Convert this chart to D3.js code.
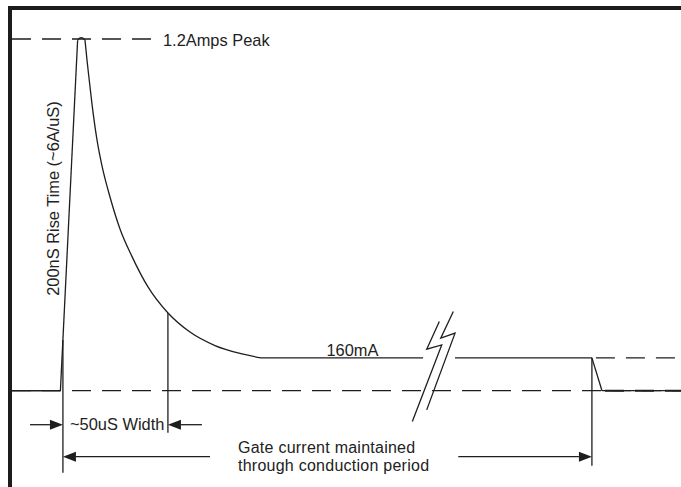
<!DOCTYPE html>
<html>
<head>
<meta charset="utf-8">
<script src="https://cdn.jsdelivr.net/npm/d3@7/dist/d3.min.js"></script>
<style>
  html, body { margin: 0; padding: 0; background: #fff; }
  svg { display: block; }
  text { font-family: "Liberation Sans", Arial, sans-serif; fill: #222; }
</style>
</head>
<body>
<svg id="chart" width="681" height="487"></svg>
<script>
// ---------- data (time in µs from start of rise, current in A) ----------
const peakCurrent = 1.2;
const plateauCurrent = 0.112;          // drawn level of the 160mA holding current
const timeStart = -24, timeEnd = 296;

const riseT  = [0, 8.2];
const riseI  = [0, 1.196];
const capT   = [8.2, 9.0, 9.95, 10.9, 11.7];
const capI   = [1.196, 1.203, 1.206, 1.203, 1.196];
const decayT = [11.71, 12.67, 13.62, 15.05, 17.29, 19.81, 23.62, 28.38, 33.95, 41.71, 51.24, 61.71, 73.62, 85.52, 95.52];
const decayI = [1.196, 1.128, 1.067, 0.978, 0.862, 0.767, 0.661, 0.552, 0.460, 0.354, 0.265, 0.200, 0.154, 0.127, 0.112];
const plateauA = [95.52, 172.7];       // before the break
const plateauB = [187.9, 253.1];       // after the break
const fallT  = [253.1, 257.9];

const markStart = 1.2;                 // start of pulse width marker
const markWidth = 51.2;                // ~50 µs later
const markEnd   = 253.1;               // end of conduction period
const markStartTopI = 0.173;

const labels = {
  peak: "1.2Amps Peak",
  rise: "200nS Rise Time  (~6A/uS)",
  plateau: "160mA",
  width: "~50uS Width",
  gate: ["Gate current maintained", "through conduction period"]
};

// ---------- scales ----------
const svg = d3.select("#chart");
const x = d3.scaleLinear().domain([timeStart, timeEnd]).range([10, 682]);
const y = d3.scaleLinear().domain([0, peakCurrent]).range([390.7, 39]);

const ink = "#1e1e1e";
const sw = 1.3;
const fs = 16.4;
const line = d3.line().x(d => x(d[0])).y(d => y(d[1]));
const zip = (a, b) => a.map((v, i) => [v, b[i]]);

function path(pts, opts = {}) {
  return svg.append("path")
    .attr("d", (opts.curve ? d3.line().x(d => x(d[0])).y(d => y(d[1])).curve(opts.curve) : line)(pts))
    .attr("fill", "none")
    .attr("stroke", ink)
    .attr("stroke-width", opts.w || sw)
    .attr("stroke-dasharray", opts.dash || null)
    .attr("stroke-linejoin", "round");
}

// ---------- frame ----------
svg.append("rect").attr("x", 8).attr("y", 6).attr("width", 673).attr("height", 4).attr("fill", "#1c1c1c");
svg.append("rect").attr("x", 8).attr("y", 6).attr("width", 4).attr("height", 481).attr("fill", "#1c1c1c");

// ---------- reference dashed lines ----------
const dash = "19,11";
svg.append("line").attr("x1", 12).attr("x2", 153).attr("y1", y(peakCurrent)).attr("y2", y(peakCurrent))
  .attr("stroke", ink).attr("stroke-width", sw).attr("stroke-dasharray", dash);
svg.append("line").attr("x1", 12).attr("x2", 681).attr("y1", y(0)).attr("y2", y(0))
  .attr("stroke", ink).attr("stroke-width", sw).attr("stroke-dasharray", dash);
svg.append("line").attr("x1", x(markEnd) + 4).attr("x2", 681).attr("y1", y(plateauCurrent)).attr("y2", y(plateauCurrent))
  .attr("stroke", ink).attr("stroke-width", sw).attr("stroke-dasharray", dash);

// ---------- waveform ----------
path([[timeStart, 0], [riseT[0], 0]], { w: 1.6 });
path(zip(riseT, riseI));
path(zip(capT, capI), { curve: d3.curveBasis });
path(zip(decayT, decayI), { curve: d3.curveMonotoneX });
path(plateauA.map(t => [t, plateauCurrent]));
path(plateauB.map(t => [t, plateauCurrent]));
path([[fallT[0], plateauCurrent], [fallT[1], 0]]);
path([[fallT[1], 0], [timeEnd, 0]]);
svg.append("line").attr("x1", x(fallT[1]) + 3).attr("x2", 681).attr("y1", y(0)).attr("y2", y(0))
  .attr("stroke", ink).attr("stroke-width", 2).attr("stroke-dasharray", "19,11");

// ---------- break symbol ----------
const bx = (x(plateauA[1]) + x(plateauB[0])) / 2, by = y(plateauCurrent);
const zigA = [[-26.7, 63.7], [2.7, -13], [-12.3, -8.7], [0.3, -36.3]];
const zigB = [[-12.3, 52], [16, -24.7], [1.7, -19.7], [14.3, -46.3]];
[zigA, zigB].forEach(z => {
  svg.append("path")
    .attr("d", d3.line()(z.map(p => [bx + p[0], by + p[1]])))
    .attr("fill", "none").attr("stroke", ink).attr("stroke-width", sw).attr("stroke-linejoin", "miter");
});

// ---------- markers ----------
const row1 = y(0) + 34, row2 = y(0) + 66;
function vline(t, y1, y2) {
  svg.append("line").attr("x1", x(t)).attr("x2", x(t)).attr("y1", y1).attr("y2", y2)
    .attr("stroke", ink).attr("stroke-width", sw);
}
vline(markStart, y(markStartTopI), row2 + 16);
vline(markWidth, y(decayI[10]), row1 + 8);
vline(markEnd, y(plateauCurrent), row2 + 9);

function arrow(xTail, xTip, yy) {
  const dir = xTip > xTail ? 1 : -1;
  const L = 13, H = 5;
  svg.append("line").attr("x1", xTail).attr("x2", xTip - dir * L).attr("y1", yy).attr("y2", yy)
    .attr("stroke", ink).attr("stroke-width", sw);
  svg.append("path")
    .attr("d", `M${xTip},${yy} L${xTip - dir * L},${yy - H} L${xTip - dir * L},${yy + H} Z`)
    .attr("fill", ink);
}
arrow(30, x(markStart), row1);
arrow(x(markWidth) + 34, x(markWidth), row1);

// ---------- text ----------
svg.append("text").attr("x", 163).attr("y", y(peakCurrent) + 6.5).attr("font-size", fs).text(labels.peak);
svg.append("text").attr("transform", `translate(58.5,198.5) rotate(-90)`)
  .attr("text-anchor", "middle").attr("font-size", fs).text(labels.rise);
svg.append("text").attr("x", 326.5).attr("y", y(plateauCurrent) - 2).attr("font-size", fs).text(labels.plateau);
svg.append("text").attr("x", 70).attr("y", row1 + 5.5).attr("font-size", fs).text(labels.width);

const gx = 238;
const gate = svg.selectAll("text.gate").data(labels.gate).join("text")
  .attr("class", "gate")
  .attr("x", gx)
  .attr("y", (d, i) => row2 - 4 + i * 18.6)
  .attr("font-size", 16)
  .attr("letter-spacing", 0.25)
  .text(d => d);
const gEnd = gx + d3.max(gate.nodes(), n => n.getComputedTextLength());
arrow(gx - 28, x(markStart), row2);
arrow(gEnd + 29, x(markEnd), row2);
</script>
</body>
</html>
